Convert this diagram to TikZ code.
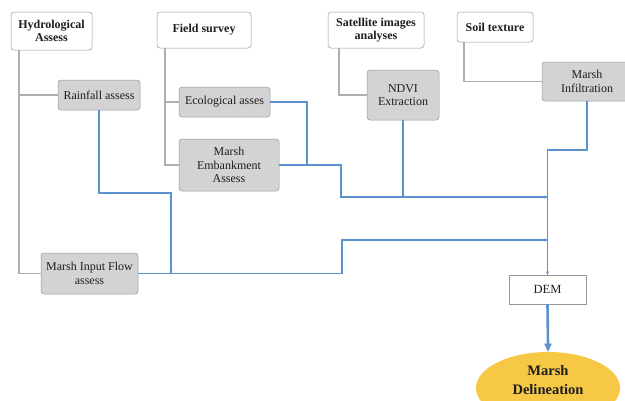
\documentclass[tikz,border=0pt]{standalone}
\usepackage{fontspec}
\setmainfont{Liberation Serif}
\usetikzlibrary{calc,shapes.geometric}
\definecolor{bluec}{RGB}{92,146,208}
\definecolor{gfill}{RGB}{211,211,211}
\definecolor{gdraw}{RGB}{150,150,150}
\definecolor{gline}{RGB}{175,175,175}
\definecolor{yel}{RGB}{246,200,70}
\definecolor{txt}{RGB}{30,30,30}
\tikzset{
  whitebox/.style={draw=gdraw, fill=white, rounded corners=3pt, align=center, inner sep=1pt, font=\fontsize{12}{13}\selectfont\bfseries, text=txt, line width=0.5pt},
  graybox/.style={draw=gdraw, fill=gfill, rounded corners=3pt, align=center, inner sep=1pt, font=\fontsize{12}{13.5}\selectfont, text=txt, line width=0.5pt},
  gl/.style={draw=gline, line width=1.2pt},
  bline/.style={draw=bluec, line width=1.3pt},
  tipmark/.style={fill=bluec, draw=none},
}
\newcommand{\tipat}[3]{% coordinate, angle, size
  \fill[tipmark] (#1) -- ++(#2+155:#3) -- ++(#2-90:{0.85*#3}) -- cycle;}
\begin{document}
\begin{tikzpicture}[x=1pt,y=1pt]
\useasboundingbox (0,-400) rectangle (625,0);
\begin{scope}
\clip (0,-400) rectangle (625,0);
% top boxes
\node[whitebox, minimum width=81pt, minimum height=38pt] (hyd) at (51.5,-31) {Hydrological\\Assess};
\node[whitebox, minimum width=94pt, minimum height=36pt] (field) at (204,-30) {Field survey};
\node[whitebox, minimum width=96pt, minimum height=36pt] (sat) at (376,-30) {Satellite images\\analyses};
\node[whitebox, minimum width=76pt, minimum height=30pt] (soil) at (495,-27) {Soil texture};
% gray boxes
\node[graybox, minimum width=82pt, minimum height=30pt] (rain) at (99,-95) {Rainfall assess};
\node[graybox, minimum width=91pt, minimum height=30pt] (eco) at (224.5,-102) {Ecological asses};
\node[graybox, minimum width=100pt, minimum height=52pt] (emb) at (229,-165) {Marsh\\Embankment\\Assess};
\node[graybox, minimum width=72pt, minimum height=50pt] (ndvi) at (403,-95) {NDVI\\Extraction};
\node[graybox, minimum width=90pt, minimum height=39pt] (infil) at (587,-81.5) {Marsh\\Infiltration};
\node[graybox, minimum width=97pt, minimum height=41pt] (flow) at (89.5,-273.5) {Marsh Input Flow\\assess};
\node[draw=gdraw, fill=white, minimum width=77pt, minimum height=29pt, inner sep=1pt, font=\fontsize{12.5}{14}\selectfont, text=txt] (dem) at (547.5,-289.5) {DEM};
\node[ellipse, fill=yel, minimum width=144pt, minimum height=72pt, inner sep=0pt, align=center, font=\fontsize{14.5}{19}\selectfont\bfseries, text=txt] (del) at (548,-388) {Marsh\\Delineation\\[-2pt]};
% coordinates
\coordinate (hx) at (19,0);
\coordinate (fx) at (165,0);
\coordinate (sx) at (339,0);
\coordinate (tx) at (464,0);
% gray connectors
\draw[gl] (hyd.south -| hx) |- (flow.west);
\draw[gl] (rain.west -| hx) -- (rain.west);
\draw[gl] (field.south -| fx) |- (emb.west);
\draw[gl] (eco.west -| fx) -- (eco.west);
\draw[gl] (sat.south -| sx) |- (ndvi.west);
\draw[gl] (soil.south -| tx) |- (infil.west);
% blue connectors
\coordinate (r1) at (171,-193);
\coordinate (j1) at (342,-240);
\coordinate (j2) at (341,-197);
\coordinate (j3) at (587,-150);
\coordinate (cx) at (547.5,0);
\coordinate (a1) at (r1 |- flow.east);
\coordinate (a2) at (j1 -| cx);
\coordinate (a3) at (emb.east -| j2);
\coordinate (a4) at (j2 -| cx);
\coordinate (a5) at (ndvi.south |- j2);
\draw[bline] (rain.south) |- (r1) -- (a1);
\draw[bline] (flow.east) -| (j1) -- (a2);
\draw[bline] (eco.east) -| (307,-165);
\draw[bline] (emb.east) -- (a3) |- (a4);
\draw[bline] (ndvi.south) -- (a5);
\draw[bline] (infil.south) -- (j3) -| (a4) -- (a2) -- (dem.north);
\tipat{a1}{-90}{3.5}
\tipat{a2}{0}{3.5}
\tipat{a3}{0}{3.5}
\tipat{a4}{0}{3.5}
\tipat{a5}{-90}{3.5}
\tipat{dem.north}{-90}{3.5}
\draw[draw=bluec, line width=2.6pt] (dem.south) -- ($(del.north)+(0,7)$);
\tipat{del.north}{-90}{9}
\end{scope}
\end{tikzpicture}
\end{document}
